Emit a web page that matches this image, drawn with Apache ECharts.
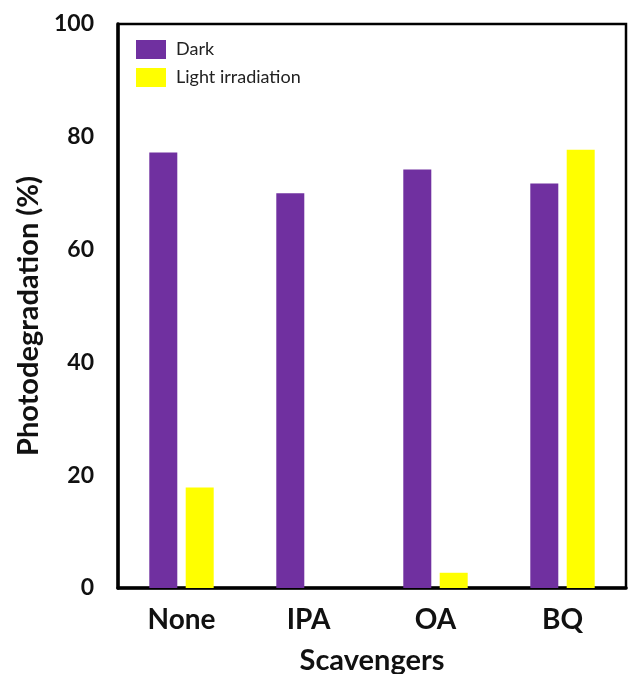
<!DOCTYPE html>
<html>
<head>
<meta charset="utf-8">
<script src="https://cdn.jsdelivr.net/npm/echarts@6/dist/echarts.min.js"></script>
<style>
html,body{margin:0;padding:0;background:#fff;}
#chart{width:628px;height:674px;}
</style>
</head>
<body>
<div id="chart"></div>
<script>
const categories = ['None', 'IPA', 'OA', 'BQ'];
const darkValues = [77.2, 70.0, 74.2, 71.7];
const lightValues = [17.8, 0, 2.7, 77.7];
const yTicks = [0, 20, 40, 60, 80, 100];

const FONT = 'Lato, "Open Sans", sans-serif';
const chart = echarts.init(document.getElementById('chart'));
chart.setOption({
  animation: false,
  backgroundColor: '#fff',
  grid: {
    left: 118, right: 2, top: 24, bottom: 86,
    containLabel: false,
    outerBoundsMode: 'none',
    show: true, borderColor: '#000', borderWidth: 2.5
  },
  legend: {
    left: 131, top: 35, orient: 'vertical',
    itemWidth: 30, itemHeight: 19, itemGap: 9,
    icon: 'rect',
    textStyle: { fontFamily: FONT, fontSize: 18, color: '#222', padding: [0, 0, 0, 5] },
    data: ['Dark', 'Light irradiation']
  },
  xAxis: {
    type: 'category',
    data: categories,
    name: 'Scavengers',
    nameLocation: 'middle',
    nameGap: 58,
    nameTextStyle: { fontFamily: FONT, fontSize: 29, fontWeight: 'bold', color: '#111' },
    axisLine: { lineStyle: { color: '#000', width: 3.5 } },
    axisTick: { show: false },
    axisLabel: { fontFamily: FONT, fontSize: 28, fontWeight: 'bold', color: '#111', margin: 18 }
  },
  yAxis: {
    type: 'value',
    min: yTicks[0], max: yTicks[yTicks.length - 1], interval: 20,
    name: 'Photodegradation (%)',
    nameLocation: 'middle',
    nameGap: 72,
    nameTextStyle: { fontFamily: FONT, fontSize: 29, fontWeight: 'bold', color: '#111', padding: [0, 20, 0, 0] },
    axisLine: { show: true, lineStyle: { color: '#000', width: 3.5 } },
    axisTick: { show: false },
    splitLine: { show: false },
    axisLabel: { fontFamily: FONT, fontSize: 23, fontWeight: 'bold', color: '#111', margin: 24 }
  },
  series: [
    {
      name: 'Dark', type: 'bar', data: darkValues,
      barWidth: 28, barGap: '30%',
      itemStyle: { color: '#7030A0' }
    },
    {
      name: 'Light irradiation', type: 'bar', data: lightValues,
      barWidth: 28,
      itemStyle: { color: '#FFFF00' }
    }
  ]
});
</script>
</body>
</html>
